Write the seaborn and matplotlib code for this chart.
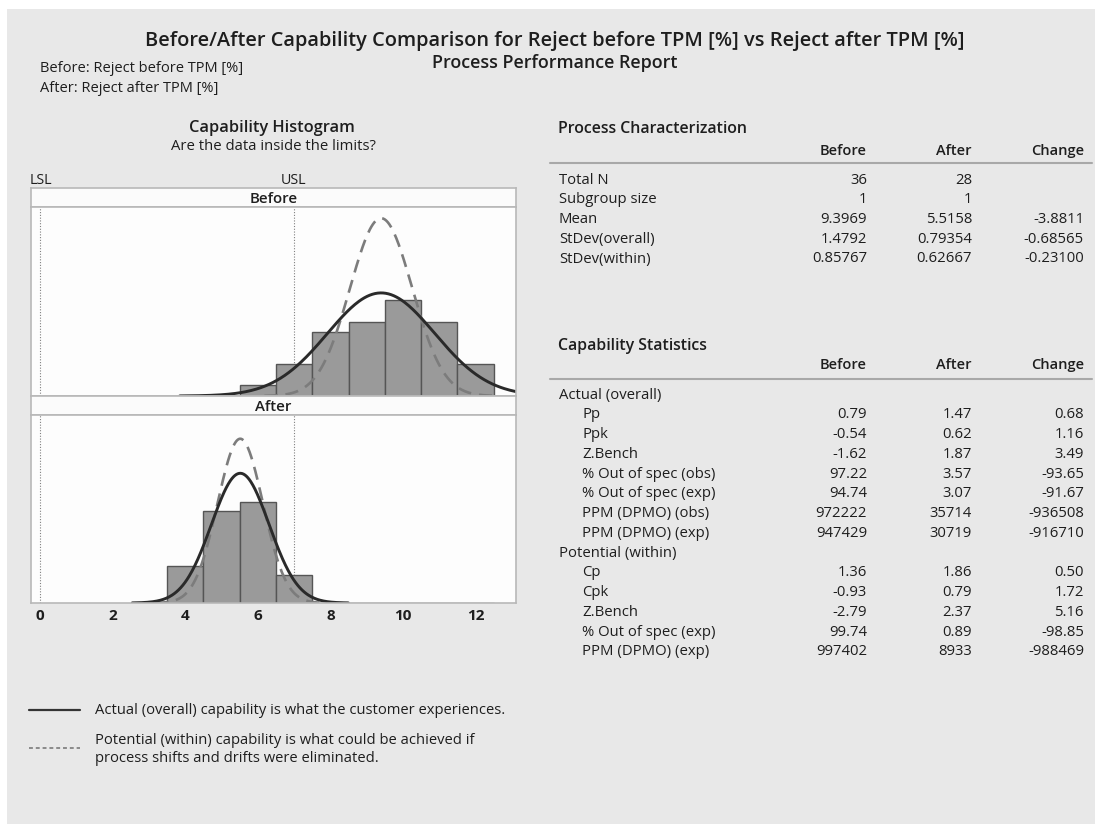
import numpy as np
import matplotlib
matplotlib.use("Agg")
import matplotlib.pyplot as plt
import seaborn as sns
from matplotlib.patches import Rectangle
from matplotlib.lines import Line2D

# 直方图数据（组距 1）
bin_edges = [3.5, 4.5, 5.5, 6.5, 7.5, 8.5, 9.5, 10.5, 11.5, 12.5]
before_counts = [0, 0, 1, 3, 6, 7, 9, 7, 3]
after_counts = [4, 10, 11, 3, 0, 0, 0, 0, 0]
lsl, usl = 0, 7

# 过程特征
pc_rows = ["Total N", "Subgroup size", "Mean", "StDev(overall)", "StDev(within)"]
pc_before = ["36", "1", "9.3969", "1.4792", "0.85767"]
pc_after = ["28", "1", "5.5158", "0.79354", "0.62667"]
pc_change = ["", "", "-3.8811", "-0.68565", "-0.23100"]

# 曲线参数
n_before, mean_before, sd_ov_before, sd_wi_before = 36, 9.3969, 1.4792, 0.85767
n_after, mean_after, sd_ov_after, sd_wi_after = 28, 5.5158, 0.79354, 0.62667

# 能力统计
cs_rows = ["Actual (overall)", "Pp", "Ppk", "Z.Bench", "% Out of spec (obs)",
           "% Out of spec (exp)", "PPM (DPMO) (obs)", "PPM (DPMO) (exp)",
           "Potential (within)", "Cp", "Cpk", "Z.Bench", "% Out of spec (exp)",
           "PPM (DPMO) (exp)"]
cs_indent = [0, 1, 1, 1, 1, 1, 1, 1, 0, 1, 1, 1, 1, 1]
cs_before = ["", "0.79", "-0.54", "-1.62", "97.22", "94.74", "972222", "947429",
             "", "1.36", "-0.93", "-2.79", "99.74", "997402"]
cs_after = ["", "1.47", "0.62", "1.87", "3.57", "3.07", "35714", "30719",
            "", "1.86", "0.79", "2.37", "0.89", "8933"]
cs_change = ["", "0.68", "1.16", "3.49", "-93.65", "-91.67", "-936508", "-916710",
             "", "0.50", "1.72", "5.16", "-98.85", "-988469"]

sns.set_style("white")
plt.rcParams["font.family"] = ["Open Sans", "DejaVu Sans"]
TXT = "#1e1e1e"
BOLD = "semibold"

W, H = 1095, 824


def fx(px):
    return px / W


def fy(py):
    return 1 - py / H


fig = plt.figure(figsize=(W / 100, H / 100), dpi=100)
fig.patch.set_facecolor("white")
fig.add_artist(Rectangle((fx(7), 0), 1 - fx(7), fy(9), transform=fig.transFigure,
                         facecolor="#e8e8e8", edgecolor="none", zorder=-10))

# 标题
fig.text(fx(555), fy(41), "Before/After Capability Comparison for Reject before TPM [%] vs Reject after TPM [%]",
         ha="center", va="center", fontsize=14.4, fontweight=BOLD, color=TXT)
fig.text(fx(555), fy(63), "Process Performance Report", ha="center", va="center",
         fontsize=12.9, fontweight=BOLD, color=TXT)
fig.text(fx(40), fy(68), "Before: Reject before TPM [%]", ha="left", va="center", fontsize=10.5, color=TXT)
fig.text(fx(40), fy(88), "After: Reject after TPM [%]", ha="left", va="center", fontsize=10.5, color=TXT)

fig.text(fx(272), fy(128), "Capability Histogram", ha="center", va="center",
         fontsize=11.8, fontweight=BOLD, color=TXT)
fig.text(fx(273), fy(147), "Are the data inside the limits?", ha="center", va="center",
         fontsize=10.7, color=TXT)
fig.text(fx(30), fy(180), "LSL", ha="left", va="center", fontsize=10.3, color=TXT)
fig.text(fx(294), fy(180), "USL", ha="center", va="center", fontsize=10.3, color=TXT)

# 直方图面板
left, right = 31, 515.5
panels = [("Before", 188, 207, 396, before_counts, n_before, mean_before, sd_ov_before, sd_wi_before, 17.8),
          ("After", 396, 415, 603, after_counts, n_after, mean_after, sd_ov_after, sd_wi_after, 20.4)]
centers = [(a + b) / 2 for a, b in zip(bin_edges[:-1], bin_edges[1:])]
axes = []
for name, s_top, p_top, p_bot, counts, n, mu, sd_ov, sd_wi, ytop in panels:
    sax = fig.add_axes([fx(left), fy(p_top), fx(right) - fx(left), (p_top - s_top) / H])
    sax.set_facecolor("#fbfbfb")
    sax.set_xticks([])
    sax.set_yticks([])
    for sp in sax.spines.values():
        sp.set_color("#b8b8b8")
        sp.set_linewidth(1.2)
    sax.text(0.5, 0.42, name, ha="center", va="center", fontsize=10.8, fontweight=BOLD,
             color=TXT, transform=sax.transAxes)

    ax = fig.add_axes([fx(left), fy(p_bot), fx(right) - fx(left), (p_bot - p_top) / H])
    ax.set_facecolor("#fdfdfd")
    sns.histplot(x=centers, weights=counts, bins=bin_edges, ax=ax, color="#9a9a9a",
                 edgecolor="#555555", linewidth=1, alpha=1)
    xs = np.linspace(mu - 3.75 * sd_ov, mu + 3.75 * sd_ov, 300)
    ys = n * np.exp(-0.5 * ((xs - mu) / sd_ov) ** 2) / (sd_ov * np.sqrt(2 * np.pi))
    xw = np.linspace(mu - 3.75 * sd_wi, mu + 3.75 * sd_wi, 300)
    yw = n * np.exp(-0.5 * ((xw - mu) / sd_wi) ** 2) / (sd_wi * np.sqrt(2 * np.pi))
    sns.lineplot(x=xw, y=yw, ax=ax, color="#7c7c7c", linewidth=1.9,
                 linestyle=(0, (5, 3)), sort=False, estimator=None)
    sns.lineplot(x=xs, y=ys, ax=ax, color="#2a2a2a", linewidth=2.1, sort=False, estimator=None)
    for v in (lsl, usl):
        ax.axvline(v, color="#808080", linewidth=0.8, linestyle=(0, (1, 1.5)), zorder=0.5)
    ax.set_xlim(-0.25, 13.1)
    ax.set_ylim(0, ytop)
    ax.set_xlabel("")
    ax.set_ylabel("")
    ax.set_yticks([])
    for sp in ax.spines.values():
        sp.set_color("#b8b8b8")
        sp.set_linewidth(1.2)
    axes.append(ax)

axes[0].set_xticks([])
axes[1].set_xticks(range(0, 13, 2))
axes[1].set_xticklabels([str(t) for t in range(0, 13, 2)], fontweight="bold", fontsize=11, color=TXT)
axes[1].tick_params(axis="x", length=0, pad=4)

# 图例说明
fig.add_artist(Line2D([fx(29), fx(80)], [fy(710), fy(710)], color="#333333", linewidth=1.6,
                      transform=fig.transFigure))
fig.text(fx(95), fy(710), "Actual (overall) capability is what the customer experiences.",
         ha="left", va="center", fontsize=10.6, color=TXT)
fig.add_artist(Line2D([fx(29), fx(80)], [fy(748), fy(748)], color="#8a8a8a", linewidth=1.4,
                      linestyle=(0, (2, 1.5)), transform=fig.transFigure))
fig.text(fx(95), fy(740), "Potential (within) capability is what could be achieved if",
         ha="left", va="center", fontsize=10.6, color=TXT)
fig.text(fx(95), fy(759), "process shifts and drifts were eliminated.",
         ha="left", va="center", fontsize=10.6, color=TXT)

# 右侧表格
col_x = [867, 972, 1084]
label_x, indent_x = 559, 582


def draw_table(title, title_y, head_y, line_y, first_y, rows, cols, indents=None):
    fig.text(fx(label_x - 1), fy(title_y), title, ha="left", va="center",
             fontsize=11.4, fontweight=BOLD, color=TXT)
    for cx, h in zip(col_x, ["Before", "After", "Change"]):
        fig.text(fx(cx), fy(head_y), h, ha="right", va="center", fontsize=10.5,
                 fontweight=BOLD, color=TXT)
    fig.add_artist(Line2D([fx(550), fx(1092)], [fy(line_y), fy(line_y)], color="#a8a8a8",
                          linewidth=1.5, transform=fig.transFigure))
    step = 19.75
    for i, r in enumerate(rows):
        y = first_y + 1 + i * step
        x0 = indent_x if (indents and indents[i]) else label_x
        fig.text(fx(x0), fy(y), r, ha="left", va="center", fontsize=10.7, color=TXT)
        for cx, col in zip(col_x, cols):
            fig.text(fx(cx), fy(y), col[i], ha="right", va="center", fontsize=10.7, color=TXT)


draw_table("Process Characterization", 129, 151, 163, 179, pc_rows,
           [pc_before, pc_after, pc_change])
draw_table("Capability Statistics", 346, 365, 379, 394, cs_rows,
           [cs_before, cs_after, cs_change], cs_indent)

fig.savefig("out.png", dpi=100, facecolor=fig.get_facecolor())
